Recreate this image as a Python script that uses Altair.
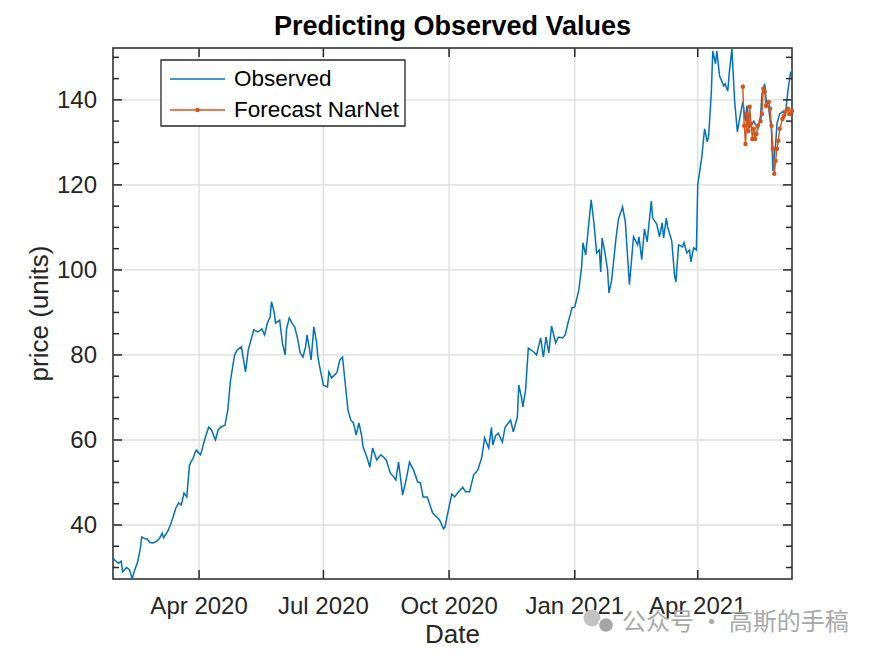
import altair as alt
import pandas as pd

# ---------------- data ----------------
START = "2020-01-29"          # first observation (day 0)
END = "2021-06-09"            # last observation

obs_day = [0, 1, 4, 6, 7, 10, 12, 14, 16, 18, 20, 21, 23, 25, 27, 29, 31, 32, 34, 36,
           37, 40, 42, 44, 46, 48, 50, 52, 54, 56, 59, 60, 61, 64, 65, 67, 70, 72, 75, 77,
           79, 82, 84, 86, 89, 91, 94, 97, 99, 101, 103, 106, 109, 111, 113, 115, 116, 118, 119, 122,
           124, 126, 127, 129, 131, 133, 135, 137, 139, 141, 142, 144, 145, 147, 149, 150, 152, 154, 157, 158,
           160, 163, 164, 166, 168, 171, 172, 174, 176, 178, 180, 182, 183, 186, 188, 190, 193, 196, 198, 200,
           203, 205, 207, 209, 212, 215, 217, 220, 223, 225, 227, 230, 232, 234, 237, 239, 242, 243, 245, 248,
           250, 253, 256, 258, 261, 264, 267, 270, 272, 275, 277, 278, 280, 282, 285, 287, 291, 293, 296, 297,
           299, 300, 302, 304, 308, 310, 313, 315, 317, 319, 321, 324, 326, 329, 331, 333, 336, 338, 341, 343,
           344, 346, 348, 350, 352, 354, 356, 357, 358, 360, 362, 363, 365, 368, 370, 373, 375, 378, 381, 384,
           385, 387, 389, 391, 394, 395, 398, 400, 402, 403, 405, 406, 409, 411, 412, 414, 417, 418, 420, 422,
           423, 425, 427, 428, 431, 433, 435, 436, 438, 439, 441, 442, 444, 447, 448, 450, 451, 453, 455, 457,
           459, 461, 463, 464, 466, 469, 472, 474, 475, 477, 478, 480, 482, 483, 485, 486, 488, 491, 492, 494,
           496, 497]
obs_price = [32.3, 31.8, 31.0, 31.5, 29.0, 30.0, 29.5, 27.4, 29.5, 31.3, 34.5, 37.2, 36.8, 36.7, 35.9, 35.8, 36.0, 36.2, 36.8, 38.1,
             37.0, 38.5, 40.0, 41.9, 44.0, 45.2, 44.7, 47.5, 46.6, 54.1, 56.0, 57.0, 57.6, 56.5, 57.5, 60.0, 63.0, 62.4, 60.0, 62.4,
             63.0, 63.5, 67.0, 74.0, 80.0, 81.2, 81.9, 76.0, 81.2, 83.5, 85.9, 85.4, 86.1, 84.7, 87.5, 89.0, 92.5, 90.0, 87.5, 88.2,
             82.8, 80.0, 86.0, 88.7, 87.5, 86.6, 84.0, 80.5, 79.5, 82.0, 84.7, 81.0, 78.8, 86.6, 83.0, 79.5, 76.0, 72.9, 72.5, 76.0,
             74.6, 75.5, 76.0, 78.8, 79.5, 70.1, 67.0, 64.7, 64.0, 61.2, 64.0, 61.0, 58.4, 55.8, 53.6, 58.1, 55.3, 56.5, 56.0, 55.3,
             52.2, 51.5, 50.6, 54.8, 47.1, 51.3, 54.8, 52.9, 50.1, 49.9, 46.6, 46.6, 44.7, 42.8, 41.9, 41.2, 39.1, 39.5, 42.8, 47.3,
             46.6, 47.8, 48.9, 47.8, 47.8, 51.8, 52.9, 56.0, 60.5, 58.1, 63.0, 58.8, 61.0, 61.6, 59.5, 63.0, 64.7, 61.9, 65.4, 72.9,
             70.0, 67.8, 71.8, 81.6, 80.7, 80.0, 84.0, 79.5, 84.2, 80.5, 86.8, 82.8, 84.2, 84.0, 84.7, 87.5, 91.1, 91.3, 95.3, 100.7,
             106.4, 103.5, 110.1, 116.5, 111.1, 104.0, 104.7, 99.5, 107.5, 104.2, 100.0, 94.6, 97.6, 107.0, 112.0, 114.8, 111.3, 96.5, 107.8, 105.9,
             107.8, 102.4, 109.6, 106.6, 116.2, 112.2, 110.8, 107.8, 111.1, 107.5, 112.2, 110.1, 106.8, 98.8, 97.2, 105.9, 105.4, 106.4, 104.0, 104.7,
             101.9, 105.2, 104.7, 120.0, 126.6, 133.2, 130.1, 131.5, 142.1, 151.5, 148.5, 151.5, 145.6, 143.3, 143.8, 142.1, 146.1, 152.0, 139.8, 132.5,
             136.2, 139.5, 135.0, 138.6, 133.6, 135.0, 133.2, 136.2, 141.4, 143.8, 140.2, 137.9, 132.7, 123.3, 129.6, 134.4, 136.7, 137.4, 136.2, 142.1,
             146.6, 145.5]

fc_day = [461, 462, 463, 464, 465, 466, 467, 468, 469, 470, 471, 472, 474, 475, 476, 477,
          478, 480, 481, 482, 483, 484, 485, 486, 487, 488, 490, 491, 492, 494, 495, 497]
fc_price = [143.1, 133.9, 129.6, 136.7, 132.7, 138.4, 134.4, 130.8, 133.2, 130.8, 132.0, 133.9, 135.0, 136.7, 142.6, 141.9,
            138.6, 139.5, 137.9, 133.9, 128.5, 122.6, 125.6, 128.5, 130.4, 133.2, 135.5, 136.2, 137.2, 137.9, 136.7, 137.4]

x_ticks = ["2020-04-01", "2020-07-01", "2020-10-01", "2021-01-01", "2021-04-01"]
y_major = [40, 60, 80, 100, 120, 140]
y_minor = [30, 35, 45, 50, 55, 65, 70, 75, 85, 90, 95, 105, 110, 115, 125, 130, 135, 145, 150]
y_limits = [27.3, 152.2]

series_labels = ["Observed", "Forecast NarNet"]
title_text = "Predicting Observed Values"
x_title = "Date"
y_title = "price (units)"
watermark = "公众号 · 高斯的手稿"

# ---------------- frames ----------------
start = pd.Timestamp(START)
obs = pd.DataFrame({"date": start + pd.to_timedelta(obs_day, unit="D"), "price": obs_price})
fc = pd.DataFrame({"date": start + pd.to_timedelta(fc_day, unit="D"), "price": fc_price})
xt = pd.DataFrame({"date": pd.to_datetime(x_ticks)})
xt["label"] = xt["date"].dt.strftime("%b %Y")
ymaj = pd.DataFrame({"v": y_major})
ymaj["label"] = [str(v) for v in y_major]
ymin = pd.DataFrame({"v": y_minor})
one = pd.DataFrame({"k": [0]})

W, H = 679, 531
BLUE = "#0072BD"
ORANGE = "#D95319"
AX = "#262626"
GRID = "#dcdcdc"
FONT = "Liberation Sans"
TICK_FS = 24
LABEL_FS = 26


def dt(s):
    t = pd.Timestamp(s)
    return alt.DateTime(year=t.year, month=t.month, date=t.day)


x_scale = alt.Scale(domain=[dt(START), dt(END)])
y_scale = alt.Scale(domain=y_limits, nice=False, zero=False)
X = lambda f: alt.X(f, scale=x_scale, axis=None)
Y = lambda f: alt.Y(f, scale=y_scale, axis=None)

# grid
grid_x = alt.Chart(xt).mark_rule(color=GRID, strokeWidth=1.3).encode(
    x=X("date:T"), y=alt.value(0), y2=alt.value(H))
grid_y = alt.Chart(ymaj).mark_rule(color=GRID, strokeWidth=1.3).encode(
    y=Y("v:Q"), x=alt.value(0), x2=alt.value(W))

# series
obs_line = alt.Chart(obs).mark_line(color=BLUE, strokeWidth=1.5, clip=True).encode(
    x=X("date:T"), y=Y("price:Q"))
fc_line = alt.Chart(fc).mark_line(color=ORANGE, strokeWidth=1.4, clip=True).encode(
    x=X("date:T"), y=Y("price:Q"))
fc_pts = alt.Chart(fc).mark_circle(color=ORANGE, size=20, opacity=1).encode(
    x=X("date:T"), y=Y("price:Q"))

# inward ticks on all four sides (MATLAB box style)
MAJ, MIN = 9, 6
ts = dict(color=AX, strokeWidth=1.5)
xt_bottom = alt.Chart(xt).mark_rule(**ts).encode(x=X("date:T"), y=alt.value(H - MAJ), y2=alt.value(H))
xt_top = alt.Chart(xt).mark_rule(**ts).encode(x=X("date:T"), y=alt.value(0), y2=alt.value(MAJ))
yt_left = alt.Chart(ymaj).mark_rule(**ts).encode(y=Y("v:Q"), x=alt.value(0), x2=alt.value(MAJ))
yt_right = alt.Chart(ymaj).mark_rule(**ts).encode(y=Y("v:Q"), x=alt.value(W - MAJ), x2=alt.value(W))
ym_left = alt.Chart(ymin).mark_rule(**ts).encode(y=Y("v:Q"), x=alt.value(0), x2=alt.value(MIN))
ym_right = alt.Chart(ymin).mark_rule(**ts).encode(y=Y("v:Q"), x=alt.value(W - MIN), x2=alt.value(W))

# tick labels
x_lab = alt.Chart(xt).mark_text(baseline="alphabetic", align="center", fontSize=TICK_FS,
                                font=FONT, color=AX).encode(
    x=X("date:T"), y=alt.value(H + 35), text="label:N")
y_lab = alt.Chart(ymaj).mark_text(baseline="middle", align="right", fontSize=TICK_FS,
                                  font=FONT, color=AX, dy=1).encode(
    y=Y("v:Q"), x=alt.value(-16), text="label:N")

# axis titles
x_ttl = alt.Chart(one).mark_text(baseline="alphabetic", align="center", fontSize=LABEL_FS,
                                 font=FONT, color=AX).encode(
    x=alt.value(W / 2), y=alt.value(H + 64), text=alt.value(x_title))
y_ttl = alt.Chart(one).mark_text(baseline="middle", align="center", angle=270, fontSize=LABEL_FS,
                                 font=FONT, color=AX).encode(
    x=alt.value(-73), y=alt.value(H / 2), text=alt.value(y_title))

# legend box (MATLAB northwest legend)
LFS = 22.5
leg_box = alt.Chart(one).mark_rect(fill="white", stroke=AX, strokeWidth=1.3).encode(
    x=alt.value(48), x2=alt.value(292), y=alt.value(12), y2=alt.value(78))
leg_l1 = alt.Chart(one).mark_rule(color=BLUE, strokeWidth=1.5).encode(
    x=alt.value(57), x2=alt.value(112), y=alt.value(31))
leg_l2 = alt.Chart(one).mark_rule(color=ORANGE, strokeWidth=1.5).encode(
    x=alt.value(57), x2=alt.value(112), y=alt.value(62))
leg_p2 = alt.Chart(one).mark_circle(color=ORANGE, size=20, opacity=1).encode(
    x=alt.value(84.5), y=alt.value(62))
leg_t1 = alt.Chart(one).mark_text(align="left", baseline="middle", fontSize=LFS, font=FONT,
                                  color="black").encode(
    x=alt.value(121), y=alt.value(31), text=alt.value(series_labels[0]))
leg_t2 = alt.Chart(one).mark_text(align="left", baseline="middle", fontSize=LFS, font=FONT,
                                  color="black").encode(
    x=alt.value(121), y=alt.value(62), text=alt.value(series_labels[1]))

# watermark
wm = alt.Chart(one).mark_text(align="left", baseline="middle", fontSize=24,
                              font="Noto Sans CJK SC", color="#a8a8a8").encode(
    x=alt.value(509), y=alt.value(575), text=alt.value(watermark))
wm_icon1 = alt.Chart(one).mark_circle(color="#c2c2c2", size=290, opacity=1).encode(
    x=alt.value(479), y=alt.value(570))
wm_icon2 = alt.Chart(one).mark_circle(color="#a6a6a6", size=230, opacity=1,
                                      stroke="white", strokeWidth=1.5).encode(
    x=alt.value(493), y=alt.value(577))

chart = alt.layer(
    grid_x, grid_y,
    obs_line, fc_line, fc_pts,
    xt_bottom, xt_top, yt_left, yt_right, ym_left, ym_right,
    x_lab, y_lab, x_ttl, y_ttl,
    leg_box, leg_l1, leg_l2, leg_p2, leg_t1, leg_t2,
    wm_icon1, wm_icon2, wm,
).properties(
    width=W, height=H,
    title=alt.TitleParams(title_text, fontSize=27, fontWeight="bold", font=FONT,
                          color="black", anchor="middle", offset=6),
    autosize=alt.AutoSizeParams(type="none"),
    padding={"left": 105, "top": 40, "right": 74, "bottom": 70},
    background="white",
).configure_view(stroke=AX, strokeWidth=1.5)

chart.save("out.html", embed_options={"renderer": "svg", "actions": False})
